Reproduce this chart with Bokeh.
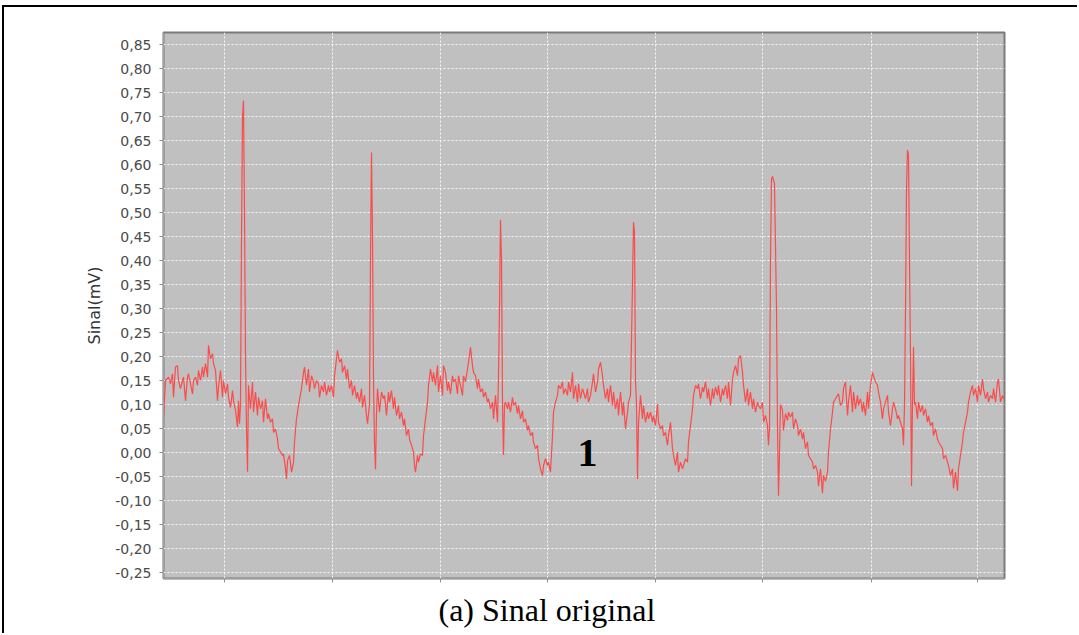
from bokeh.plotting import figure
from bokeh.models import Range1d, FixedTicker, CustomJSTickFormatter, Label, Title
from bokeh.embed import file_html
from bokeh.resources import INLINE

# ---- data ----
sample = [0, 2, 5, 7, 9, 10, 12, 14, 15, 17, 19, 20, 22, 24, 25, 27, 29, 30, 32, 34, 35, 37, 39, 40, 42, 44, 45, 47, 49, 50,
          52, 54, 55, 57, 59, 60, 62, 64, 65, 67, 69, 70, 72, 74, 75, 76,
          77, 78, 79, 80, 81, 82, 83, 84, 85,
          87, 89, 90, 92, 94, 95, 97, 99, 100, 102, 104, 105, 107, 109, 110, 112, 114, 115, 117, 119, 120, 122, 123, 124,
          126, 128, 130, 131, 133, 135, 138, 140, 141, 143, 145, 146, 148, 150, 151, 153, 155, 156, 158, 160, 161, 163,
          165, 166, 168, 170, 171, 173, 174, 176, 178, 179, 181, 183, 184, 186, 188, 189, 191, 193, 194, 196, 198, 199,
          201, 203, 204,
          206, 207, 208, 209, 210, 211, 212, 213,
          214, 216, 218, 220, 221, 223, 225, 226, 228, 230, 231, 233, 235, 236, 238, 240, 241, 243, 245, 246, 248, 250,
          251, 252, 254, 255, 257, 259, 260, 262, 264, 265, 267, 269, 270, 272, 274, 275, 277, 279, 280, 282, 284, 285,
          287, 289, 290, 292, 294, 295, 297, 299, 300, 302, 304, 305, 307, 309, 310, 312, 314, 315, 317, 319, 320, 322,
          324, 325, 327, 329, 330, 332, 334, 335,
          336, 337, 338, 339, 340, 341,
          342, 344, 345, 347, 349, 350, 352, 354, 355, 357, 359, 360, 362, 364, 365, 367, 369, 370, 372, 374, 375, 377,
          379, 380, 382, 384, 385, 387, 389, 390, 392, 394, 395, 397, 399, 400, 402, 404, 405, 407, 409, 410, 412, 414,
          415, 417, 419,
          420, 422, 424, 425, 427, 429, 430, 432, 434, 435, 437, 439, 440, 442, 444, 445, 447, 449, 450, 452, 454, 455,
          457, 459, 460, 462, 464, 465, 467,
          469, 470, 471, 472, 473, 474, 475,
          477, 479, 480, 482, 484, 485, 487, 489, 490, 492, 494, 495, 497, 499, 500, 502, 504, 505, 507, 509, 510, 512,
          514, 515, 517, 519, 520, 522, 524, 525, 527, 529, 530, 532, 534, 535, 537, 539, 540, 542, 544, 545, 547, 549,
          550, 552, 554, 555, 557, 559, 560, 562, 564, 565, 567, 569, 570, 572, 574, 575, 577, 579, 580, 582, 584, 585,
          587, 589, 590, 592, 594, 595, 597, 599, 600, 602, 604, 605,
          606, 607, 608, 609, 611, 613, 614, 615, 616, 617,
          619, 620, 622, 624, 625, 627, 629, 630, 632, 634, 635, 637, 639, 640, 642, 644, 645, 647, 649, 650, 652, 654,
          655, 657, 659, 660, 662, 664, 665, 667, 669, 670, 672, 674, 675, 677, 679, 680, 682, 684, 685, 687, 689, 690,
          692, 694, 695, 697, 699, 700, 702, 704, 705, 707, 709, 710, 712, 714, 715, 717, 719, 720, 722, 724, 725, 727,
          729, 730, 732, 734, 735, 737, 739, 740,
          741, 742, 743, 744, 745, 746, 747, 748, 749, 750, 751,
          752, 754, 755, 757, 759, 760, 762, 764, 765, 767, 769, 770, 772, 774, 775, 777, 779, 780, 782, 784, 785, 787,
          789, 790, 792, 794, 795, 797, 799, 800, 802, 804, 805, 807, 809, 810, 812, 814, 815, 817, 819, 820, 822, 824,
          825, 827, 829, 830, 832, 834, 835, 837, 839, 840]

signal_mv = [0.074, 0.150, 0.157, 0.143, 0.164, 0.115, 0.178, 0.181, 0.150, 0.133, 0.150, 0.157, 0.108, 0.157, 0.164,
             0.143, 0.122, 0.150, 0.157, 0.140, 0.171, 0.150, 0.178, 0.157, 0.185, 0.157, 0.223, 0.195, 0.206, 0.185,
             0.171, 0.108, 0.136, 0.171, 0.115, 0.150, 0.122, 0.143, 0.115, 0.094, 0.129, 0.108, 0.088, 0.053, 0.108,
             0.060,
             0.10, 0.45, 0.70, 0.733, 0.50, 0.20, 0.05, -0.04, 0.14,
             0.091, 0.147, 0.084, 0.126, 0.077, 0.115, 0.091, 0.108, 0.063, 0.112, 0.070, 0.081, 0.063, 0.070, 0.042,
             0.049, 0.028, 0.008, 0.001, -0.006, -0.003, -0.034, -0.055, -0.017,
             -0.006, -0.041, -0.020, 0.022, 0.070, 0.098, 0.133, 0.167, 0.178, 0.140, 0.174, 0.126, 0.160, 0.147, 0.133,
             0.150, 0.143, 0.115, 0.140, 0.126, 0.147, 0.119,
             0.140, 0.126, 0.140, 0.115, 0.160, 0.195, 0.213, 0.188, 0.195, 0.167, 0.181, 0.153, 0.174, 0.133, 0.150,
             0.119, 0.140, 0.112, 0.126, 0.105, 0.133, 0.094,
             0.119, 0.077, 0.060,
             0.10, 0.40, 0.625, 0.45, 0.15, 0.02, -0.035, 0.08,
             0.133, 0.084, 0.126, 0.112, 0.119, 0.077, 0.126, 0.105, 0.129, 0.091, 0.115, 0.077, 0.098, 0.070, 0.084,
             0.056, 0.070, 0.035, 0.049, 0.028, 0.015, 0.001,
             -0.027, -0.041, -0.006, -0.020, -0.003, -0.006, 0.035, 0.070, 0.105, 0.140, 0.174, 0.147, 0.167, 0.140,
             0.181, 0.126, 0.160, 0.119, 0.181, 0.167, 0.129, 0.147,
             0.122, 0.160, 0.147, 0.153, 0.122, 0.160, 0.140, 0.119, 0.160, 0.147, 0.174, 0.188, 0.219, 0.181, 0.167,
             0.160, 0.133, 0.153, 0.126, 0.133, 0.115, 0.126,
             0.105, 0.112, 0.091, 0.105, 0.070, 0.119, 0.063, 0.160,
             0.30, 0.485, 0.40, 0.10, -0.005, 0.10,
             0.105, 0.091, 0.105, 0.084, 0.115, 0.098, 0.105, 0.081, 0.098, 0.070, 0.087, 0.063, 0.070, 0.046, 0.056,
             0.035, 0.042, 0.022, 0.008, 0.015, -0.013, -0.034,
             -0.048, -0.027, -0.013, -0.027, -0.020, -0.041, 0.035, 0.084, 0.105, 0.119, 0.140, 0.133, 0.147, 0.122,
             0.133, 0.119, 0.147, 0.126, 0.167, 0.112, 0.140, 0.105,
             0.143, 0.112, 0.133,
             0.126, 0.112, 0.133, 0.105, 0.119, 0.147, 0.164, 0.126, 0.147, 0.174, 0.188, 0.160, 0.140, 0.112, 0.133,
             0.105, 0.140, 0.098, 0.126, 0.091, 0.112, 0.077,
             0.126, 0.077, 0.105, 0.049, 0.084, 0.105, 0.119,
             0.35, 0.48, 0.46, 0.15, 0.10, -0.055, 0.06,
             0.119, 0.070, 0.098, 0.063, 0.084, 0.070, 0.084, 0.063, 0.077, 0.056, 0.101, 0.063, 0.049, 0.056, 0.035,
             0.042, 0.015, 0.035, 0.063, 0.008, -0.006, -0.027,
             0.001, -0.041, -0.020, -0.034, -0.027, -0.013, -0.020, 0.022, 0.056, 0.091, 0.119, 0.140, 0.133, 0.143,
             0.112, 0.136, 0.126, 0.147, 0.112, 0.133, 0.098, 0.133,
             0.112, 0.136, 0.119, 0.140, 0.105, 0.133, 0.119, 0.140, 0.112, 0.147, 0.098, 0.153, 0.167, 0.181, 0.160,
             0.195, 0.202, 0.167, 0.140, 0.105, 0.133, 0.098,
             0.126, 0.091, 0.112, 0.084, 0.105, 0.098, 0.091, 0.105, 0.063, 0.077, 0.056, 0.015,
             0.05, 0.40, 0.57, 0.575, 0.56, 0.30, 0.05, -0.09, 0.0, 0.10,
             0.088, 0.046, 0.081, 0.067, 0.084, 0.074, 0.084, 0.049, 0.070, 0.056, 0.035, 0.049, 0.028, 0.042, 0.008,
             0.022, -0.006, -0.013, -0.020, -0.034, -0.027, -0.041,
             -0.070, -0.034, -0.085, -0.048, -0.060, -0.041, 0.001, 0.049, 0.084, 0.105, 0.112, 0.119, 0.122, 0.098,
             0.105, 0.133, 0.147, 0.077, 0.105, 0.140, 0.084, 0.126,
             0.091, 0.119, 0.098, 0.112, 0.084, 0.105, 0.077, 0.126, 0.091, 0.140, 0.167, 0.160, 0.147, 0.140, 0.126,
             0.105, 0.070, 0.091, 0.105, 0.119, 0.084, 0.056,
             0.091, 0.105, 0.091, 0.070, 0.077, 0.063, 0.049, 0.015,
             0.10, 0.30, 0.55, 0.63, 0.62, 0.40, 0.20, -0.07, 0.10, 0.22, 0.10,
             0.105, 0.070, 0.105, 0.084, 0.098, 0.077, 0.091, 0.063, 0.077, 0.056, 0.063, 0.035, 0.049, 0.028, 0.022,
             0.015, 0.008, -0.013, -0.006, -0.020, -0.027, -0.048,
             -0.034, -0.075, -0.041, -0.080, -0.034, -0.006, 0.022, 0.042, 0.063, 0.084, 0.105, 0.126, 0.140, 0.119,
             0.133, 0.105, 0.140, 0.119, 0.153, 0.133, 0.112, 0.126,
             0.105, 0.119, 0.112, 0.133, 0.105, 0.147, 0.153, 0.105, 0.119, 0.112]

y_ticks = [-0.25, -0.20, -0.15, -0.10, -0.05, 0.00, 0.05, 0.10, 0.15, 0.20, 0.25, 0.30,
           0.35, 0.40, 0.45, 0.50, 0.55, 0.60, 0.65, 0.70, 0.75, 0.80, 0.85]
x_ticks = [61, 169, 277, 384, 492, 599, 708, 814]
y_title = "Sinal(mV)"
caption = "(a) Sinal original"
marker = "1"

# canvas is shifted to page (4, 7) so that its left/top CSS border sits where the reference frame box is
p = figure(width=1075, height=628, output_backend="svg", toolbar_location=None,
           x_range=Range1d(0, 841), y_range=Range1d(-0.2625, 0.875),
           min_border_left=159, min_border_right=75, min_border_top=25, min_border_bottom=57)
p.styles = {"border-left": "2px solid black", "border-top": "2px solid black",
            "margin-left": "2px", "margin-top": "5px"}
p.title.visible = False
p.background_fill_color = "#c0c0c0"
p.border_fill_color = "white"
p.outline_line_color = "#7a7a7a"
p.outline_line_width = 2

p.line(sample, signal_mv, line_color="#ff4040", line_width=1.2, line_alpha=0.9)

# axes
p.yaxis.ticker = FixedTicker(ticks=y_ticks)
p.yaxis.formatter = CustomJSTickFormatter(code="return tick.toFixed(2).replace('.', ',');")
p.xaxis.ticker = FixedTicker(ticks=x_ticks)
p.xaxis.formatter = CustomJSTickFormatter(code="return '';")
p.xaxis.major_label_standoff = 0
for ax in (p.xaxis, p.yaxis):
    ax.axis_line_color = "#a0a0a0"
    ax.major_tick_line_color = "#909090"
    ax.major_tick_out = 4
    ax.major_tick_in = 0
    ax.minor_tick_line_color = None
    ax.major_label_text_font = "DejaVu Sans"
    ax.major_label_text_font_size = "14px"
    ax.major_label_text_color = "#4a4a4a"
p.yaxis.major_label_standoff = 8
p.yaxis.axis_label = y_title
p.yaxis.axis_label_text_font = "DejaVu Sans"
p.yaxis.axis_label_text_font_size = "16px"
p.yaxis.axis_label_text_font_style = "normal"
p.yaxis.axis_label_text_color = "#333333"
p.yaxis.axis_label_standoff = 8

# grids
for g in (p.xgrid, p.ygrid):
    g.grid_line_color = "white"
    g.grid_line_alpha = 0.9
    g.grid_line_dash = "2 2"
    g.grid_line_width = 1

# annotations
p.add_layout(Label(x=424, y=0.0, text=marker, text_font="Liberation Serif",
                   text_font_style="bold", text_font_size="40px", text_color="black",
                   text_align="center", text_baseline="alphabetic"))
p.add_layout(Title(text=caption, align="left", offset=275, standoff=14, vertical_align="bottom",
                   text_font="Liberation Serif", text_font_size="32px", text_font_style="normal",
                   text_color="black"), "below")

open("out.html", "w").write(file_html(p, INLINE))
